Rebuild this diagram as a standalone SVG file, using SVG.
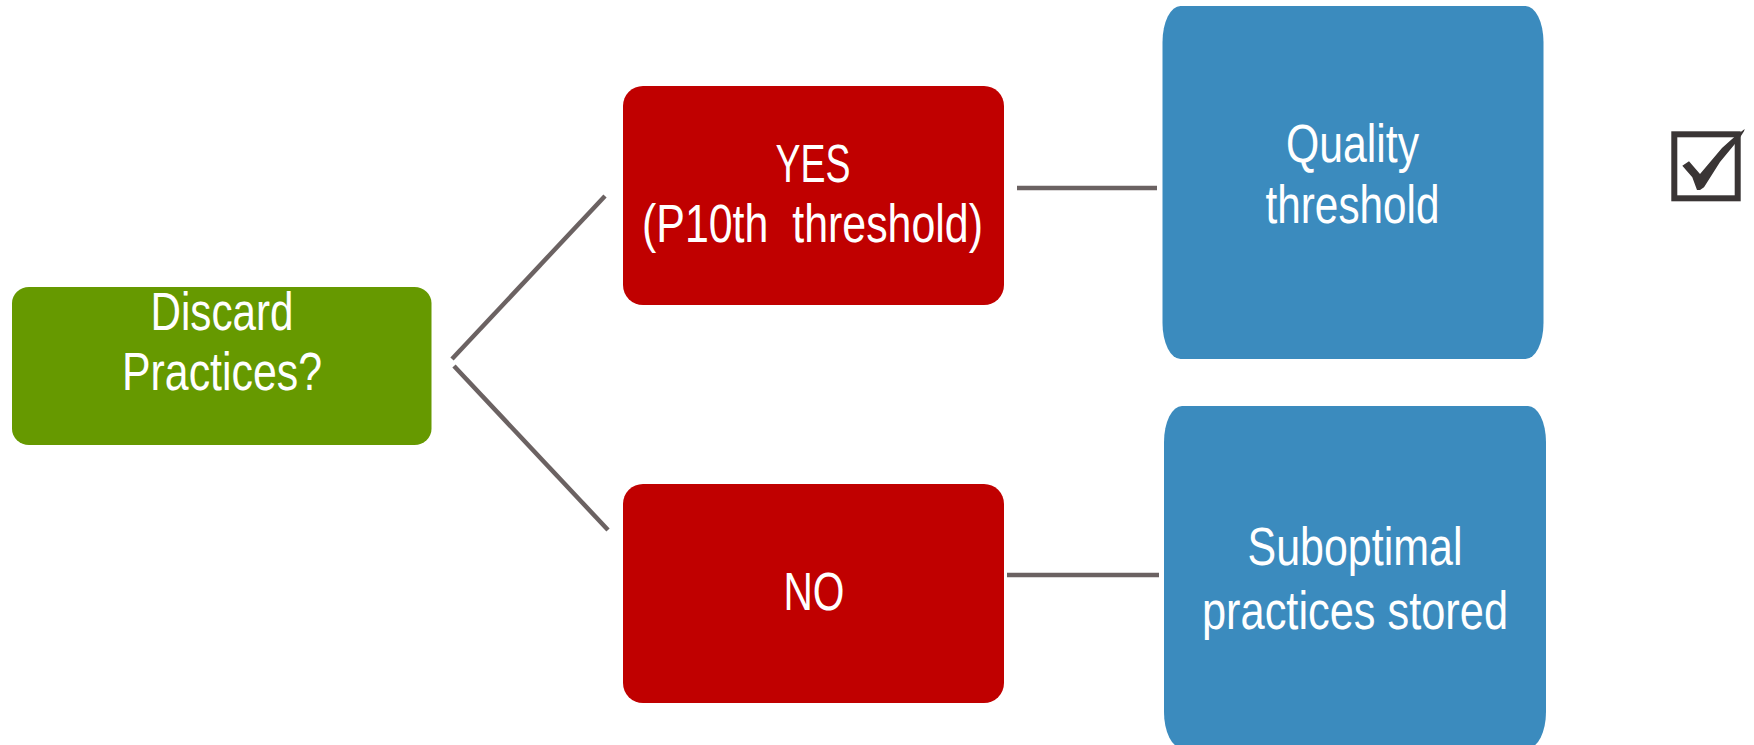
<svg xmlns="http://www.w3.org/2000/svg" width="1754" height="745" viewBox="0 0 1754 745">
<style>
.lbl{font-family:"Liberation Sans Narrow","Liberation Sans",Arial,sans-serif;font-size:53px;fill:#ffffff;text-anchor:middle;white-space:pre}
.conn{stroke:#6b6262;stroke-width:4.5;fill:none}
</style>
<rect x="0" y="0" width="1754" height="745" fill="#ffffff"/>
<g id="connectors">
<line class="conn" x1="452" y1="359" x2="605" y2="196"/>
<line class="conn" x1="454" y1="366" x2="608" y2="530"/>
<line class="conn" x1="1017" y1="188" x2="1157" y2="188"/>
<line class="conn" x1="1007" y1="575" x2="1159" y2="575"/>
</g>
<g id="discard">
<rect x="12" y="287" width="419.5" height="158" rx="17" ry="16" fill="#669900"/>
<text class="lbl" x="222" y="330" textLength="143" lengthAdjust="spacingAndGlyphs">Discard</text>
<text class="lbl" x="222" y="390" textLength="200" lengthAdjust="spacingAndGlyphs">Practices?</text>
</g>
<g id="yes">
<rect x="623" y="86" width="381" height="219" rx="20" ry="20" fill="#c00000"/>
<text class="lbl" x="813" y="182" textLength="75" lengthAdjust="spacingAndGlyphs">YES</text>
<text class="lbl" x="812.5" y="242" textLength="341" lengthAdjust="spacingAndGlyphs">(P10th  threshold)</text>
</g>
<g id="no">
<rect x="623" y="484" width="381" height="219" rx="20" ry="20" fill="#c00000"/>
<text class="lbl" x="814" y="610" textLength="61" lengthAdjust="spacingAndGlyphs">NO</text>
</g>
<g id="quality">
<rect x="1162.5" y="6" width="381" height="353" rx="18" ry="36" fill="#3b8bbe"/>
<text class="lbl" x="1352.5" y="162" textLength="133" lengthAdjust="spacingAndGlyphs">Quality</text>
<text class="lbl" x="1352.5" y="223" textLength="174" lengthAdjust="spacingAndGlyphs">threshold</text>
</g>
<g id="suboptimal">
<rect x="1164" y="406" width="382" height="342" rx="18" ry="36" fill="#3b8bbe"/>
<text class="lbl" x="1355" y="565" textLength="215" lengthAdjust="spacingAndGlyphs">Suboptimal</text>
<text class="lbl" x="1355" y="629" textLength="306" lengthAdjust="spacingAndGlyphs">practices stored</text>
</g>
<g id="checkbox">
<rect x="1674.3" y="134.3" width="63.4" height="64" fill="none" stroke="#3a3535" stroke-width="6"/>
<polygon fill="#3a3535" points="1682.3,165.7 1689,161.3 1700,174 1722,148 1735.7,135.7 1744.7,129 1744,131.3 1739,139 1720,162 1704,187.3 1700,190 1697,190 1692.3,177.3"/>
</g>
</svg>
